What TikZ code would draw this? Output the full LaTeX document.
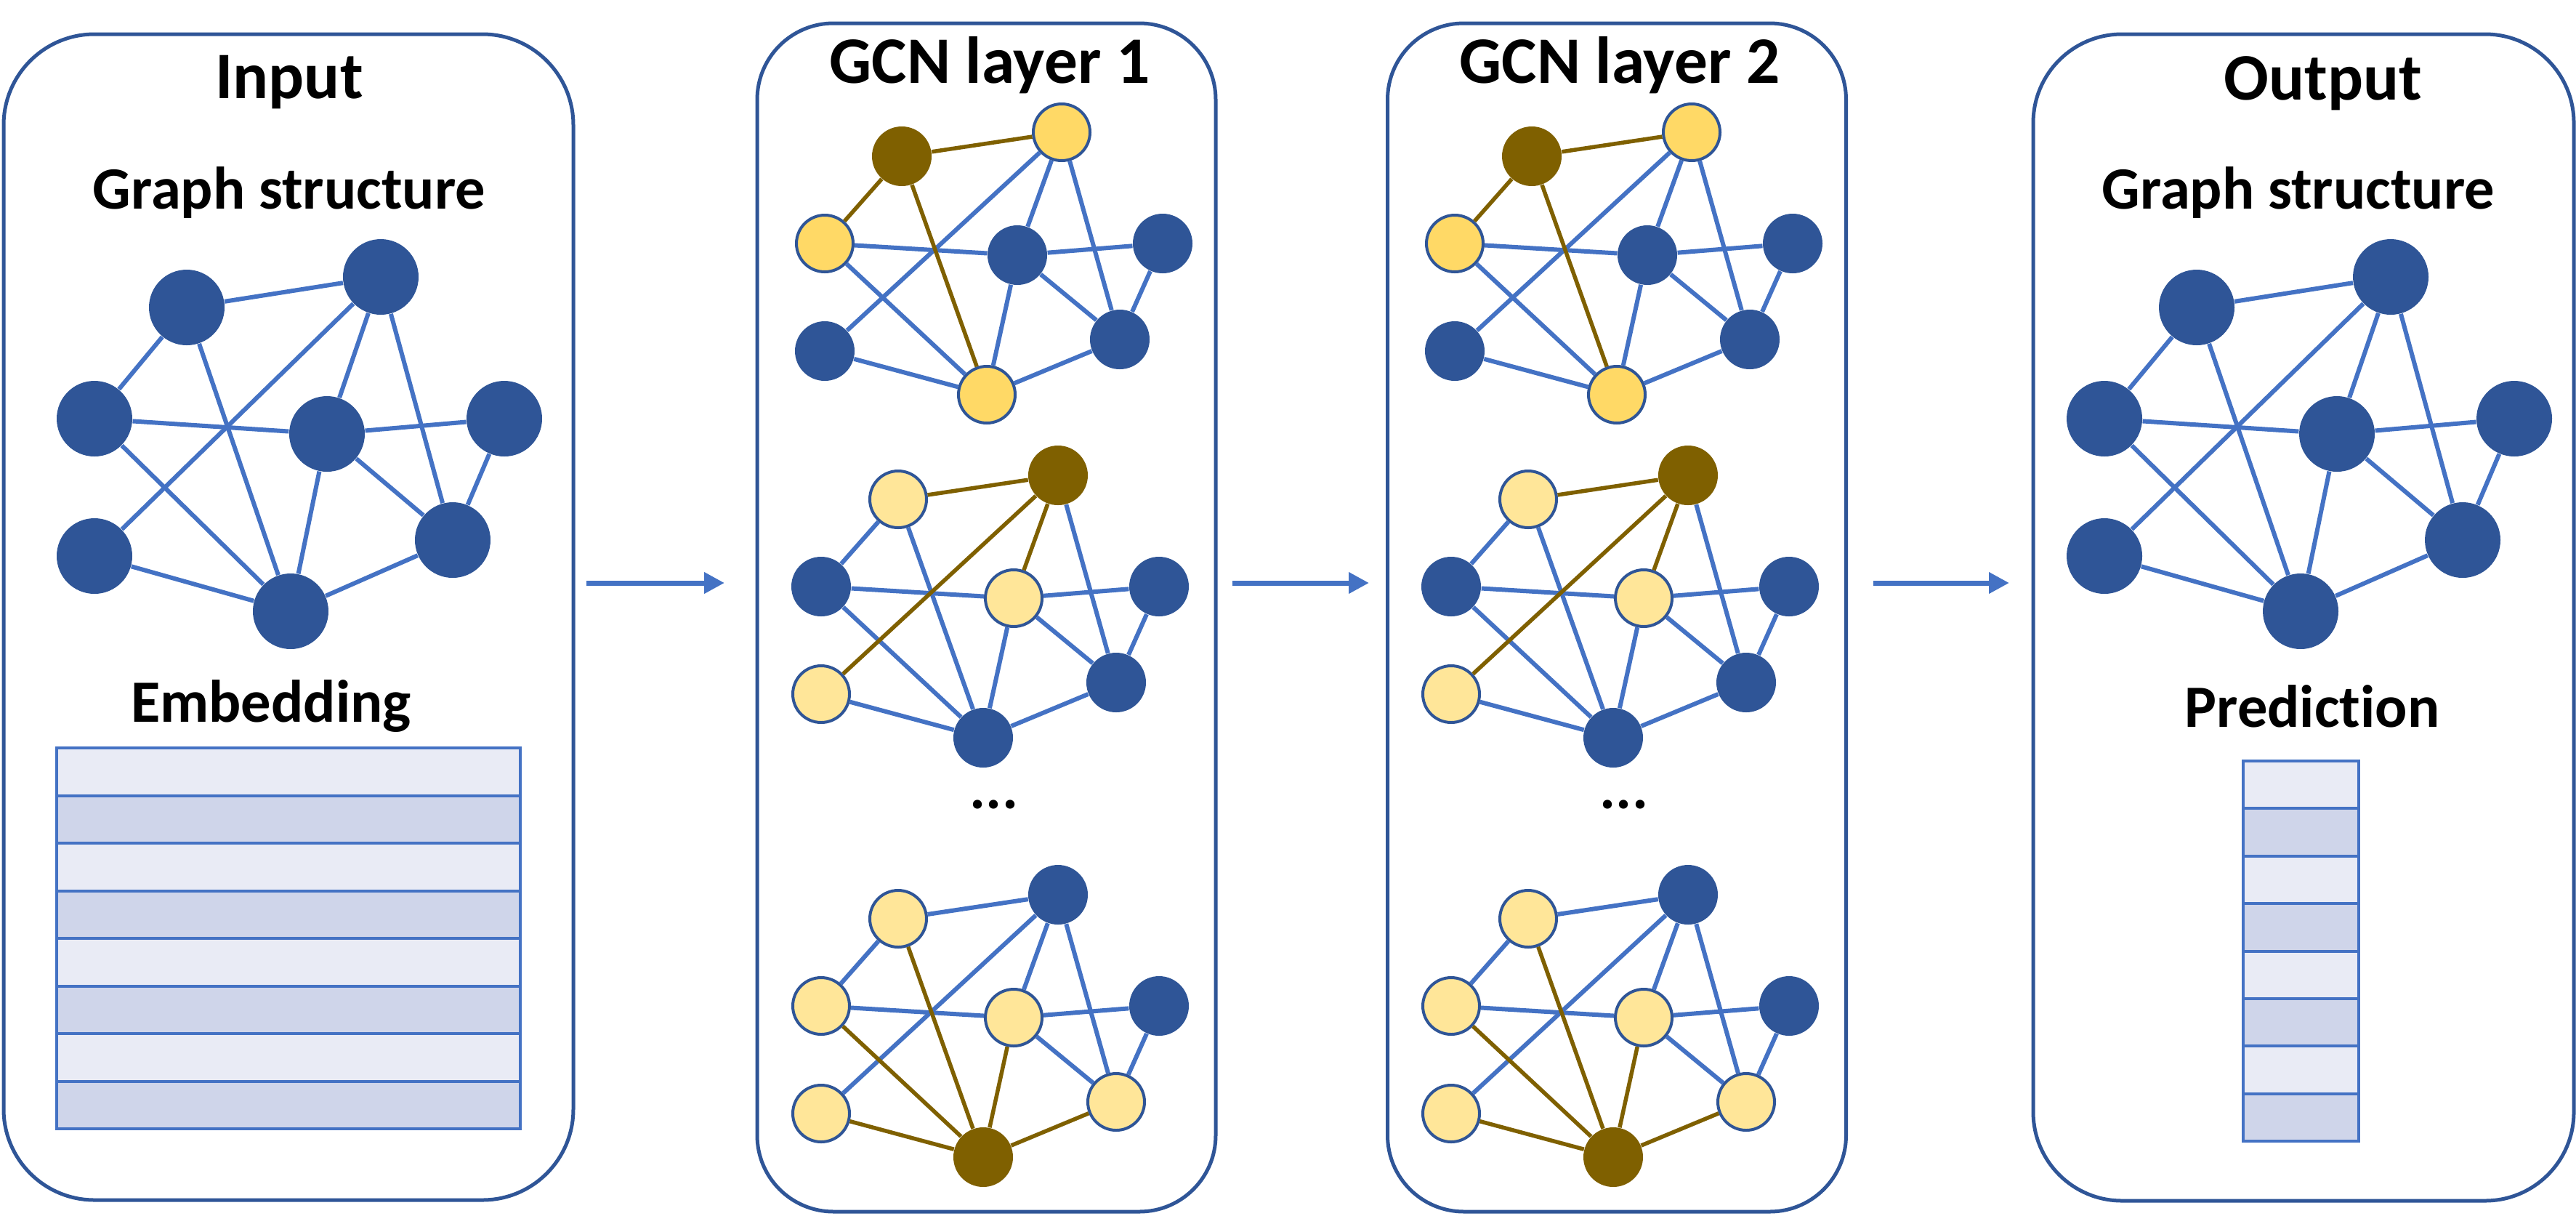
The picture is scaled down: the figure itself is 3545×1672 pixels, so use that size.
\documentclass[tikz,border=0pt]{standalone}
\usepackage{fontspec}
\setmainfont{Carlito}[Ligatures=NoCommon]
\usetikzlibrary{arrows.meta}
\definecolor{pblue}{HTML}{2F5597}
\definecolor{eblue}{HTML}{4472C4}
\definecolor{brn}{HTML}{7F6000}
\definecolor{yel}{HTML}{FFD966}
\definecolor{lyel}{HTML}{FFE699}
\definecolor{rowa}{HTML}{E9EBF5}
\definecolor{rowb}{HTML}{CFD5EA}
% GCN graph nodes: #1 prefix, #2..#9 styles of A..H
\newcommand\gnodes[9]{%
  \node[#2] (#1A) at (1241,215) {};
  \node[#3] (#1B) at (1461,182) {};
  \node[#4] (#1C) at (1135,335) {};
  \node[#5] (#1D) at (1400,351) {};
  \node[#6] (#1E) at (1600,335) {};
  \node[#7] (#1F) at (1135,483) {};
  \node[#8] (#1G) at (1541,467) {};
  \node[#9] (#1H) at (1358,543) {};}
\newcommand\bignodes[1]{%
  \node[bn] (#1A) at (257,423) {};
  \node[bn] (#1B) at (524,381) {};
  \node[bn] (#1C) at (130,576) {};
  \node[bn] (#1D) at (450,597) {};
  \node[bn] (#1E) at (694,576) {};
  \node[bn] (#1F) at (130,765) {};
  \node[bn] (#1G) at (623,743) {};
  \node[bn] (#1H) at (400,841) {};}
% edges: #1 prefix, #2 blue list, #3 brown list
\newcommand\gedges[3]{%
  \foreach \u/\v in {#2} \draw[be] (#1\u) -- (#1\v);
  \foreach \u/\v in {#3} \draw[bre] (#1\u) -- (#1\v);}
\begin{document}
\begin{tikzpicture}[x=0.1mm,y=-0.1mm,
  panel/.style={draw=pblue, line width=0.5mm, rectangle, inner sep=0},
  gn/.style={circle, inner sep=0, minimum size=8.2mm},
  nb/.style={gn, fill=pblue},
  nbr/.style={gn, fill=brn},
  ny/.style={gn, fill=yel, draw=pblue, line width=0.4mm, minimum size=7.8mm},
  nly/.style={ny, fill=lyel},
  bn/.style={circle, inner sep=0, minimum size=10.4mm, fill=pblue},
  be/.style={draw=eblue, line width=0.6mm},
  bre/.style={draw=brn, line width=0.55mm},
  ttl/.style={anchor=base, inner sep=0, font=\bfseries\fontsize{26}{30}\selectfont},
  sub/.style={anchor=base, inner sep=0, font=\bfseries\fontsize{23.5}{28}\selectfont},
  trow/.style={draw=eblue, line width=0.4mm},
  arr/.style={draw=eblue, line width=0.7mm, -{Triangle[length=2.8mm,width=2.8mm]}}]
\useasboundingbox (0,0) rectangle (3545,1672);
\fill[white] (0,0) rectangle (3545,1672);

% panels
\node[panel, rounded corners=12.5mm, minimum width=78.4mm, minimum height=160.4mm] (pin) at (397,849) {};
\node[panel, rounded corners=10.5mm, minimum width=63.1mm, minimum height=163.5mm] (pg1) at (1357.5,849.5) {};
\node[panel, rounded corners=10.5mm, minimum width=63.1mm, minimum height=163.5mm] (pg2) at (2225,849.5) {};
\node[panel, rounded corners=12.2mm, minimum width=74.4mm, minimum height=160.5mm] (pout) at (3170,849.5) {};

% titles
\node[ttl] (tin) at (398,135) {Input};
\node[sub] (tgs1) at (398,287) {Graph structure};
\node[sub] (temb) at (373,993) {Embedding};
\node[ttl] (tg1) at (1362,114) {GCN layer 1};
\node[ttl] (tg2) at (2229,114) {GCN layer 2};
\node[ttl] (tout) at (3197,137) {Output};
\node[sub] (tgs2) at (3163,287) {Graph structure};
\node[sub] (tpred) at (3182,1000) {Prediction};
\node[sub] (dots1) at (1368,1112) {...};
\node[sub] (dots2) at (2235,1112) {...};

% input graph
\bignodes{i}
\gedges{i}{A/B,A/C,A/H,B/D,B/F,B/G,C/D,C/H,D/E,D/G,D/H,E/G,F/H,G/H}{}
% output graph
\begin{scope}[shift={(2766,0)}]
\bignodes{o}
\end{scope}
\gedges{o}{A/B,A/C,A/H,B/D,B/F,B/G,C/D,C/H,D/E,D/G,D/H,E/G,F/H,G/H}{}

% GCN layer graphs
\foreach \dx/\p in {0/a,867/b}{
\begin{scope}[shift={(\dx,0)}]
\gnodes{\p1}{nbr}{ny}{ny}{nb}{nb}{nb}{nb}{ny}
\end{scope}
\begin{scope}[shift={(\dx-5,472)}]
\gnodes{\p2}{nly}{nbr}{nb}{nly}{nb}{nly}{nb}{nb}
\end{scope}
\begin{scope}[shift={(\dx-5,1049)}]
\gnodes{\p3}{nly}{nb}{nly}{nly}{nb}{nly}{nly}{nbr}
\end{scope}
\gedges{\p1}{B/D,B/F,B/G,C/D,C/H,D/E,D/G,D/H,E/G,F/H,G/H}{A/B,A/C,A/H}
\gedges{\p2}{A/C,A/H,B/G,C/D,C/H,D/E,D/G,D/H,E/G,F/H,G/H}{A/B,B/D,B/F}
\gedges{\p3}{A/B,A/C,B/D,B/F,B/G,C/D,D/E,D/G,E/G}{A/H,C/H,D/H,F/H,G/H}
}

% embedding table
\foreach \i/\c in {0/rowa,1/rowb,2/rowa,3/rowb,4/rowa,5/rowb,6/rowa,7/rowb}
  \filldraw[trow, fill=\c] (78,{1029+\i*65.5}) rectangle (716,{1029+(\i+1)*65.5});
% prediction table
\foreach \i/\c in {0/rowa,1/rowb,2/rowa,3/rowb,4/rowa,5/rowb,6/rowa,7/rowb}
  \filldraw[trow, fill=\c] (3087,{1047+\i*65.4}) rectangle (3246,{1047+(\i+1)*65.4});

% arrows
\coordinate (a1s) at (807,802);  \coordinate (a1e) at (997,802);
\coordinate (a2s) at (1696,802); \coordinate (a2e) at (1884,802);
\coordinate (a3s) at (2578,802); \coordinate (a3e) at (2765,802);
\draw[arr] (a1s) -- (a1e);
\draw[arr] (a2s) -- (a2e);
\draw[arr] (a3s) -- (a3e);
\end{tikzpicture}
\end{document}
